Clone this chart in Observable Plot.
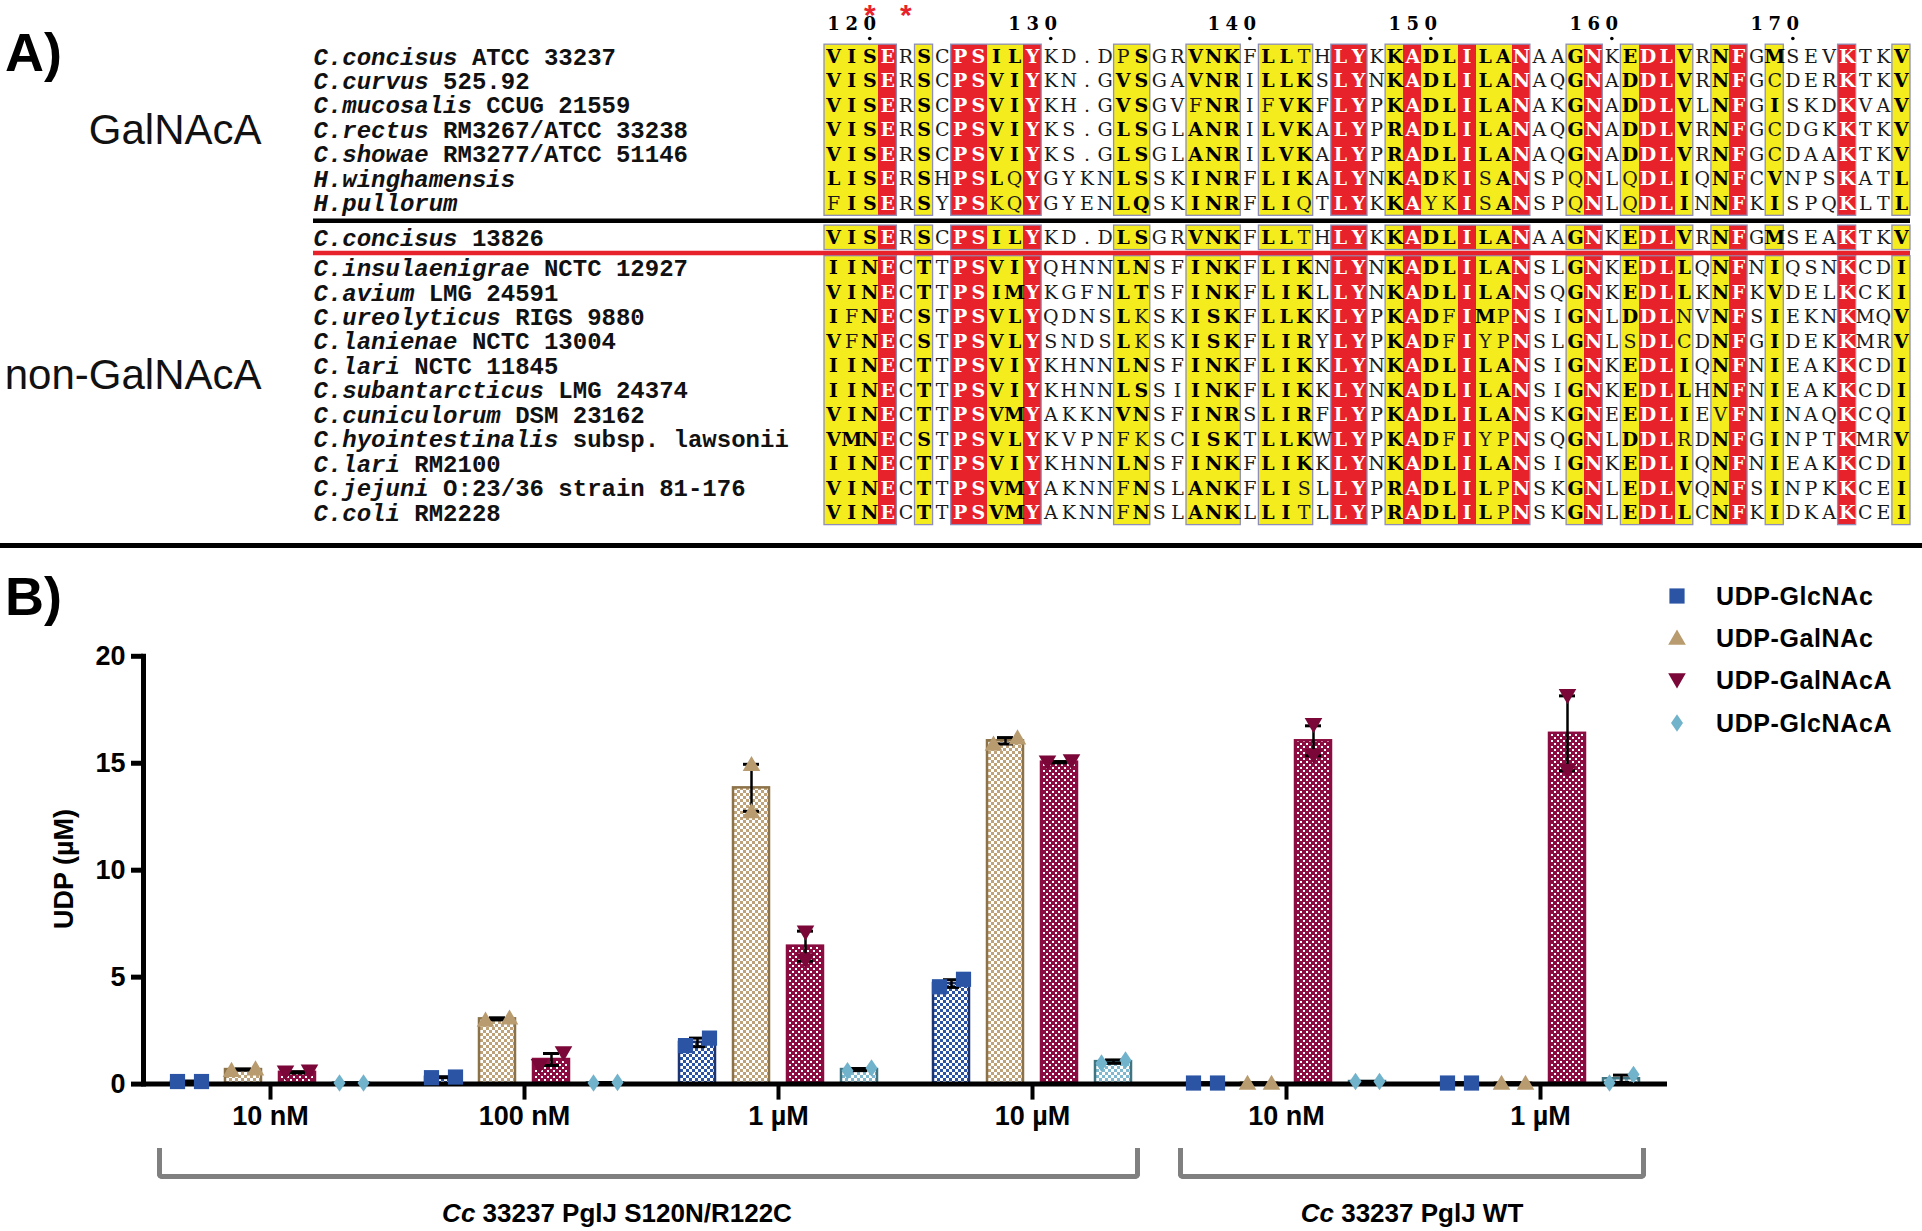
<!DOCTYPE html>
<html>
<head>
<meta charset="utf-8">
<script src="https://cdn.jsdelivr.net/npm/d3@7"></script>
<script src="https://cdn.jsdelivr.net/npm/@observablehq/plot@0.6"></script>
<style>
  body { margin: 0; background: #fff; }
  #root { position: relative; width: 1922px; height: 1231px; overflow: hidden; background: #fff;
          font-family: "Liberation Sans", Arial, sans-serif; color: #000; }
  .abs { position: absolute; white-space: nowrap; }
  #panelA, #panelB { position: absolute; left: 0; }
  #panelA { top: 0; }
  #panelB { top: 550px; }
  #panelB g[aria-label="y-axis tick"] path, #panelB g[aria-label="y-axis tick"] { stroke-width: 5px !important; }
  #panelB g[aria-label="fx-axis tick"] path, #panelB g[aria-label="fx-axis tick"] { stroke-width: 4px !important; }
  #panelB [aria-label="frame"], #panelB [aria-label="frame"] * { stroke-width: 5px !important; stroke: #000 !important; }
  .panelTag { font-weight: bold; font-size: 54px; line-height: 1; }
  .legendItem { position: absolute; display: flex; align-items: center; font-size: 25px; font-weight: bold; letter-spacing: 0.6px; }
  .bracket { position: absolute; box-sizing: border-box; border: 5px solid #808080; border-top: none; border-radius: 0 0 5px 5px; }
  .genotype { position: absolute; transform: translateX(-50%); font-weight: bold; font-size: 26px; white-space: nowrap; }
</style>
</head>
<body>
<svg width="0" height="0" style="position:absolute">
  <defs>
    <pattern id="pat0" patternUnits="userSpaceOnUse" width="6" height="6">
      <rect width="6" height="6" fill="#fff"/>
      <rect x="0" y="0" width="3" height="3" fill="#2b55a4"/>
      <rect x="3" y="3" width="3" height="3" fill="#2b55a4"/>
    </pattern>
    <pattern id="pat1" patternUnits="userSpaceOnUse" width="6" height="6">
      <rect width="6" height="6" fill="#fff"/>
      <rect x="0" y="0" width="3" height="3" fill="#bda27a"/>
      <rect x="3" y="3" width="3" height="3" fill="#bda27a"/>
    </pattern>
    <pattern id="pat2" patternUnits="userSpaceOnUse" width="6" height="6">
      <rect width="6" height="6" fill="#8a0c40"/>
      <rect x="1" y="1" width="2" height="2" fill="#fff"/>
      <rect x="4" y="4" width="2" height="2" fill="#fff"/>
    </pattern>
    <pattern id="pat3" patternUnits="userSpaceOnUse" width="6" height="6">
      <rect width="6" height="6" fill="#fff"/>
      <rect x="0" y="0" width="3" height="3" fill="#7fb8cf"/>
      <rect x="3" y="3" width="3" height="3" fill="#7fb8cf"/>
    </pattern>
  </defs>
</svg>
<div id="root">
  <div id="panelA"></div>
  <div class="abs" style="left:0;top:543px;width:1922px;height:5px;background:#000"></div>
  <div id="panelB"></div>
  <div class="abs panelTag" style="left:5px;top:25px">A)</div>
  <div class="abs panelTag" style="left:5px;top:569px">B)</div>
  <div class="abs" id="ylab" style="left:64px;top:869px;transform:translate(-50%,-50%) rotate(-90deg);font-weight:bold;font-size:27px">UDP (µM)</div>
  <div id="legend"></div>
  <div class="bracket" style="left:157px;top:1148px;width:983px;height:31px"></div>
  <div class="bracket" style="left:1178px;top:1148px;width:468px;height:31px"></div>
  <div class="genotype" style="left:617px;top:1198px"><i>Cc</i> 33237 PglJ S120N/R122C</div>
  <div class="genotype" style="left:1412px;top:1198px"><i>Cc</i> 33237 PglJ WT</div>
</div>
<script>
// ---------------- Panel A data ----------------
const speciesNames = [
  "C.concisus ATCC 33237",
  "C.curvus 525.92",
  "C.mucosalis CCUG 21559",
  "C.rectus RM3267/ATCC 33238",
  "C.showae RM3277/ATCC 51146",
  "H.winghamensis",
  "H.pullorum",
  "C.concisus 13826",
  "C.insulaenigrae NCTC 12927",
  "C.avium LMG 24591",
  "C.ureolyticus RIGS 9880",
  "C.lanienae NCTC 13004",
  "C.lari NCTC 11845",
  "C.subantarcticus LMG 24374",
  "C.cuniculorum DSM 23162",
  "C.hyointestinalis subsp. lawsonii",
  "C.lari RM2100",
  "C.jejuni O:23/36 strain 81-176",
  "C.coli RM2228"
];
const sequences = [
  "VISERSCPSILYKD.DPSGRVNKFLLTHLYKKADLILANAAGNKEDLVRNFGMSEVKTKV",
  "VISERSCPSVIYKN.GVSGAVNRILLKSLYNKADLILANAQGNADDLVRNFGCDERKTKV",
  "VISERSCPSVIYKH.GVSGVFNRIFVKFLYPKADLILANAKGNADDLVLNFGISKDKVAV",
  "VISERSCPSVIYKS.GLSGLANRILVKALYPRADLILANAQGNADDLVRNFGCDGKKTKV",
  "VISERSCPSVIYKS.GLSGLANRILVKALYPRADLILANAQGNADDLVRNFGCDAAKTKV",
  "LISERSHPSLQYGYKNLSSKINRFLIKALYNKADKISANSPQNLQDLIQNFCVNPSKATL",
  "FISERSYPSKQYGYENLQSKINRFLIQTLYKKAYKISANSPQNLQDLINNFKISPQKLTL",
  "VISERSCPSILYKD.DLSGRVNKFLLTHLYKKADLILANAAGNKEDLVRNFGMSEAKTKV",
  "IINECTTPSVIYQHNNLNSFINKFLIKNLYNKADLILANSLGNKEDLLQNFNIQSNKCDI",
  "VINECTTPSIMYKGFNLTSFINKFLIKLLYNKADLILANSQGNKEDLLKNFKVDELKCKI",
  "IFNECSTPSVLYQDNSLKSKISKFLLKKLYPKADFIMPNSIGNLDDLNVNFSIEKNKMQV",
  "VFNECSTPSVLYSNDSLKSKISKFLIRYLYPKADFIYPNSLGNLSDLCDNFGIDEKKMRV",
  "IINECTTPSVIYKHNNLNSFINKFLIKKLYNKADLILANSIGNKEDLIQNFNIEAKKCDI",
  "IINECTTPSVIYKHNNLSSIINKFLIKKLYNKADLILANSIGNKEDLLHNFNIEAKKCDI",
  "VINECTTPSVMYAKKNVNSFINRSLIRFLYPKADLILANSKGNEEDLIEVFNINAQKCQI",
  "VMNECSTPSVLYKVPNFKSCISKTLLKWLYPKADFIYPNSQGNLDDLRDNFGINPTKMRV",
  "IINECTTPSVIYKHNNLNSFINKFLIKKLYNKADLILANSIGNKEDLIQNFNIEAKKCDI",
  "VINECTTPSVMYAKNNFNSLANKFLISLLYPRADLILPNSKGNLEDLVQNFSINPKKCEI",
  "VINECTTPSVMYAKNNFNSLANKLLITLLYPRADLILPNSKGNLEDLLCNFKIDKAKCEI"
];
const rowBlock = [0,0,0,0,0,0,0, 1, 2,2,2,2,2,2,2,2,2,2,2];
const blockGapBefore = [0, 0.40, 0.25];          // extra spacing (in rows) before each block
const blockLabelText = ["GalNAcA", "non-GalNAcA"];
const blockLabelRows = [[0, 6], [7, 18]];
const firstResidueNumber = 118;                  // residue number of first column (sequence 1)
const starredResidues = [120, 122];
const similarityGroups = ["ILVMA", "FYW", "STNQ", "KR", "DE", "G", "P", "C", "H"];

// ---------------- Panel B data ----------------
const groupKeys = ["mut-10nM", "mut-100nM", "mut-1uM", "mut-10uM", "wt-10nM", "wt-1uM"];
const groupTickLabels = ["10 nM", "100 nM", "1 µM", "10 µM", "10 nM", "1 µM"];
const seriesNames = ["UDP-GlcNAc", "UDP-GalNAc", "UDP-GalNAcA", "UDP-GlcNAcA"];
const meanGlcNAc  = [0.12, 0.32, 1.95, 4.70, 0.05, 0.05];
const errGlcNAc   = [0.02, 0.02, 0.20, 0.18, 0.01, 0.01];
const repsGlcNAc  = [[0.12,0.12],[0.30,0.33],[1.80,2.15],[4.55,4.90],[0.05,0.05],[0.05,0.05]];
const meanGalNAc  = [0.68, 3.05, 13.85, 16.05, 0.05, 0.05];
const errGalNAc   = [0.03, 0.05, 1.10, 0.15, 0.01, 0.01];
const repsGalNAc  = [[0.65,0.72],[3.00,3.10],[12.75,14.95],[15.90,16.20],[0.05,0.05],[0.05,0.05]];
const meanGalNAcA = [0.55, 1.15, 6.45, 15.05, 16.05, 16.40];
const errGalNAcA  = [0.03, 0.28, 0.70, 0.03, 0.70, 1.75];
const repsGalNAcA = [[0.55,0.60],[0.85,1.45],[5.80,7.10],[15.05,15.10],[15.35,16.80],[14.65,18.15]];
const meanGlcNAcA = [0.05, 0.06, 0.68, 1.05, 0.12, 0.25];
const errGlcNAcA  = [0.01, 0.01, 0.05, 0.08, 0.01, 0.17];
const repsGlcNAcA = [[0.05,0.05],[0.05,0.08],[0.62,0.75],[0.98,1.12],[0.12,0.12],[0.05,0.45]];

// ---------------- styles ----------------
const RED = "#e8222b", YELLOW = "#f4ec1c", FRAME = "#8e8eb8";
const SEQ_FONT = "DejaVu Serif";
const markerColors = ["#2b55a4", "#b89b6e", "#7b0739", "#72b3cc"];
const barStrokes = ["#1d3472", "#8c7248", "#8a0c40", "#3f7480"];

// ======== Panel A construction ========
const groupOf = a => { const g = similarityGroups.find(s => s.includes(a)); return g ?? ("_" + a); };
const rowPos = rowBlock.map((b, i) => i + d3.sum(blockGapBefore.slice(0, b + 1)));
const nCols = sequences[0].length;
const colInfo = d3.range(nCols).map(c => {
  const col = sequences.map(s => s[c]);
  const identical = col[0] !== "." && col.every(a => a === col[0]);
  const counts = d3.rollup(col.filter(a => a !== "."), v => v.length, groupOf);
  const [bestGroup, bestCount] = d3.greatest(counts, ([, n]) => n);
  const similar = !identical && bestCount / col.length >= 0.7;
  return {identical, similar, bestGroup};
});
const cells = [];
sequences.forEach((s, r) => {
  [...s].forEach((aa, c) => {
    const info = colInfo[c];
    const cls = info.identical ? "identical" : info.similar ? (groupOf(aa) === info.bestGroup ? "similarStrong" : "similarWeak") : "none";
    cells.push({row: r, col: c, aa, p: rowPos[r], cls, shaded: info.identical ? "red" : info.similar ? "yellow" : null});
  });
});
const blocks = d3.groups(d3.range(sequences.length), r => rowBlock[r]).map(([b, rows]) => ({b, top: rowPos[rows[0]] - 0.5, bottom: rowPos[rows[rows.length - 1]] + 0.5}));
const frames = [];
blocks.forEach(bl => {
  let start = null;
  for (let c = 0; c <= nCols; c++) {
    const on = c < nCols && (colInfo[c].identical || colInfo[c].similar);
    if (on && start === null) start = c;
    if (!on && start !== null) { frames.push({c0: start, c1: c, y1: bl.top, y2: bl.bottom}); start = null; }
  }
});
const separators = blocks.slice(1).map((bl, i) => ({y: (blocks[i].bottom + bl.top) / 2, color: i === 0 ? "#000" : RED}));
const rulerTicks = [], rulerDigits = [], stars = [];
{
  let num = firstResidueNumber - 1;
  [...sequences[0]].forEach((aa, c) => {
    if (aa === ".") return;
    num++;
    if (num % 10 === 0) {
      rulerTicks.push({col: c, num});
      const str = String(num);
      [...str].forEach((dg, k) => rulerDigits.push({col: c - (str.length - 1 - k), digit: dg}));
    }
    if (starredResidues.includes(num)) stars.push({col: c});
  });
}
const nameRows = speciesNames.map((n, i) => {
  const sp = n.indexOf(" ");
  const ital = sp < 0 ? n : n.slice(0, sp);
  const rest = sp < 0 ? "" : n.slice(sp);
  return {p: rowPos[i], ital, rest: "\u00A0".repeat(ital.length) + rest.replace(/ /g, "\u00A0")};
});
const blockLabels = blockLabelText.map((t, i) => ({label: t, p: (rowPos[blockLabelRows[i][0]] + rowPos[blockLabelRows[i][1]]) / 2}));
const yMax = rowPos[rowPos.length - 1];

const plotA = Plot.plot({
  width: 1922, height: 540,
  marginLeft: 313, marginRight: 12, marginTop: 0, marginBottom: 0,
  x: {type: "linear", domain: [0, nCols], range: [824, 1910], axis: null},
  y: {type: "linear", domain: [0, yMax], range: [56.4, 56.4 + 24.45 * yMax], axis: null},
  style: {background: "white", overflow: "visible"},
  marks: [
    Plot.rect(cells.filter(d => d.shaded === "yellow"), {x1: "col", x2: d => d.col + 1, y1: d => d.p - 0.5, y2: d => d.p + 0.5, fill: YELLOW, shapeRendering: "crispEdges"}),
    Plot.rect(cells.filter(d => d.shaded === "red"), {x1: "col", x2: d => d.col + 1, y1: d => d.p - 0.5, y2: d => d.p + 0.5, fill: RED, shapeRendering: "crispEdges"}),
    Plot.rect(frames, {x1: "c0", x2: "c1", y1: "y1", y2: "y2", fill: "none", stroke: FRAME, strokeWidth: 1.3}),
    Plot.ruleY(separators, {y: "y", stroke: d => d.color, strokeWidth: 4.5}),
    Plot.text(cells.filter(d => d.cls === "identical"), {x: d => d.col + 0.5, y: "p", text: "aa", fill: "white", fontWeight: "bold", fontFamily: SEQ_FONT, fontSize: 19}),
    Plot.text(cells.filter(d => d.cls === "similarStrong"), {x: d => d.col + 0.5, y: "p", text: "aa", fill: "#000", fontWeight: "bold", fontFamily: SEQ_FONT, fontSize: 19}),
    Plot.text(cells.filter(d => d.cls === "similarWeak" || d.cls === "none"), {x: d => d.col + 0.5, y: "p", text: "aa", fill: "#1a1a1a", fontWeight: "normal", fontFamily: SEQ_FONT, fontSize: 19}),
    Plot.text(nameRows, {y: "p", text: "ital", frameAnchor: "left", textAnchor: "start", fontFamily: "Liberation Mono", fontStyle: "italic", fontWeight: "bold", fontSize: 24, fill: "#111"}),
    Plot.text(nameRows, {y: "p", text: "rest", frameAnchor: "left", textAnchor: "start", fontFamily: "Liberation Mono", fontWeight: "bold", fontSize: 24, fill: "#111"}),
    Plot.text(blockLabels, {y: "p", text: "label", frameAnchor: "left", textAnchor: "end", dx: -52, fontFamily: "Liberation Sans", fontSize: 42, fill: "#111"}),
    Plot.text(rulerDigits, {x: d => d.col + 0.5, text: "digit", frameAnchor: "top", dy: 17, fontFamily: SEQ_FONT, fontWeight: "bold", fontSize: 18}),
    Plot.dot(rulerTicks, {x: d => d.col + 0.5, frameAnchor: "top", dy: 38, r: 1.8, fill: "#000"}),
    Plot.text(stars, {x: d => d.col + 0.5, text: () => "*", frameAnchor: "top", dy: 3, fontFamily: "Liberation Sans", fontWeight: "bold", fontSize: 30, fill: RED})
  ]
});
document.getElementById("panelA").append(plotA);

// ======== Panel B construction ========
const seriesData = [
  {mean: meanGlcNAc, err: errGlcNAc, reps: repsGlcNAc},
  {mean: meanGalNAc, err: errGalNAc, reps: repsGalNAc},
  {mean: meanGalNAcA, err: errGalNAcA, reps: repsGalNAcA},
  {mean: meanGlcNAcA, err: errGlcNAcA, reps: repsGlcNAcA}
];
const rows = [];
groupKeys.forEach((g, gi) => seriesNames.forEach((s, si) => {
  const sd = seriesData[si];
  const [r1, r2] = sd.reps[gi];
  rows.push({group: g, series: s, si, mean: sd.mean[gi], err: sd.err[gi], r1, r2, close: Math.abs(r2 - r1) < 0.8});
}));
const shape = pts => ({draw(ctx, size) {
  const r = Math.sqrt(size / Math.PI);
  pts.forEach(([x, y], i) => i ? ctx.lineTo(x * r, y * r) : ctx.moveTo(x * r, y * r));
  ctx.closePath();
}});
const symbolPts = [
  [[-0.95,-0.95],[0.95,-0.95],[0.95,0.95],[-0.95,0.95]],
  [[0,-1.05],[1.1,0.85],[-1.1,0.85]],
  [[-1.1,-0.85],[1.1,-0.85],[0,1.05]],
  [[0,-1.1],[0.75,0],[0,1.1],[-0.75,0]]
];
const symbols = symbolPts.map(shape);
const R = 8, SIDE = 12;

const marksB = [];
seriesNames.forEach((s, si) => {
  marksB.push(Plot.barY(rows, {filter: d => d.si === si, x: "series", y: "mean", fill: `url(#pat${si})`, stroke: barStrokes[si], strokeWidth: 2.5}));
});
marksB.push(
  Plot.ruleX(rows, {x: "series", y1: d => d.mean - d.err, y2: d => d.mean + d.err, stroke: "#000", strokeWidth: 2.5}),
  Plot.tickY(rows, {x: "series", y: d => d.mean + d.err, insetLeft: 10, insetRight: 10, stroke: "#000", strokeWidth: 3}),
  Plot.tickY(rows, {x: "series", y: d => d.mean - d.err, insetLeft: 10, insetRight: 10, stroke: "#000", strokeWidth: 3}),
  Plot.ruleY([0], {stroke: "#000", strokeWidth: 5})
);
seriesNames.forEach((s, si) => {
  const common = {x: "series", r: R, fill: markerColors[si], symbol: symbols[si]};
  marksB.push(
    Plot.dot(rows, {...common, filter: d => d.si === si && d.close, y: "r1", dx: -SIDE}),
    Plot.dot(rows, {...common, filter: d => d.si === si && d.close, y: "r2", dx: SIDE}),
    Plot.dot(rows, {...common, filter: d => d.si === si && !d.close, y: "r1"}),
    Plot.dot(rows, {...common, filter: d => d.si === si && !d.close, y: "r2"})
  );
});

const plotB = Plot.plot({
  width: 1922, height: 600,
  marginLeft: 148, marginRight: 261, marginTop: 105.8, marginBottom: 66.4,
  facet: {data: rows, x: "group"},
  fx: {domain: groupKeys, paddingInner: 0, paddingOuter: -0.033, axis: "bottom", label: null,
       tickFormat: k => groupTickLabels[groupKeys.indexOf(k)], tickSize: 16, tickPadding: 6},
  x: {domain: seriesNames, paddingInner: 0.33, paddingOuter: 0.483, axis: null},
  y: {domain: [0, 20], ticks: [0, 5, 10, 15, 20], tickSize: 12, tickPadding: 6, label: null, line: true},
  style: {fontFamily: "Liberation Sans, Arial, sans-serif", fontSize: "27px", fontWeight: "bold", background: "transparent", overflow: "visible"},
  marks: marksB
});
document.getElementById("panelB").append(plotB);

// ======== Legend ========
const legend = document.getElementById("legend");
const legendY = [596, 638, 680, 723];
seriesNames.forEach((s, si) => {
  const item = document.createElement("div");
  item.className = "legendItem";
  item.style.left = "1667px";
  item.style.top = (legendY[si] - 16) + "px";
  const pts = symbolPts[si].map(([x, y]) => `${10 + x * R},${16 + y * R}`).join(" ");
  item.innerHTML = `<svg width="22" height="32" style="margin-right:27px"><polygon points="${pts}" fill="${markerColors[si]}"/></svg><span>${s}</span>`;
  legend.append(item);
});
</script>
</body>
</html>
